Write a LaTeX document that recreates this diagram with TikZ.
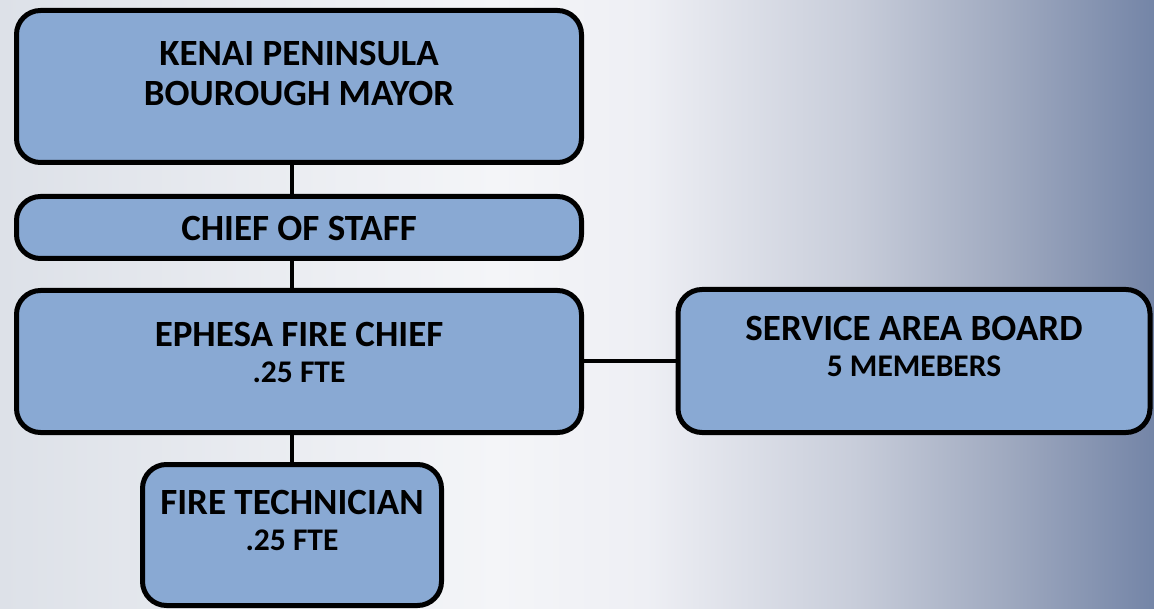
\documentclass[tikz,border=0pt]{standalone}
\usepackage{fontspec}
\setmainfont{Carlito}
\usepackage{tikz}

\definecolor{boxblue}{RGB}{137,169,211}
\definecolor{bgA}{RGB}{221,225,232}
\definecolor{bgB}{RGB}{244,245,248}
\definecolor{bgC}{RGB}{238,239,244}
\definecolor{bgD}{RGB}{200,205,218}
\definecolor{bgE}{RGB}{160,170,192}
\definecolor{bgF}{RGB}{116,133,167}

% path covers 25bp..75bp of the shading
\pgfdeclarehorizontalshading{bgshade}{100bp}{color(0bp)=(bgA); color(25bp)=(bgA); color(46.5bp)=(bgB); color(53bp)=(bgC); color(62bp)=(bgD); color(68.5bp)=(bgE); color(75bp)=(bgF); color(100bp)=(bgF)}

\tikzset{
  orgbox/.style={shape=rectangle, rounded corners=24pt, draw=black, line width=5pt, fill=boxblue, inner sep=0pt},
  orgtext/.style={align=center, font=\bfseries\fontsize{37}{40}\selectfont, text=black},
  link/.style={-, line width=4pt, black}
}
\newcommand{\subline}[1]{{\fontsize{31.5}{38}\selectfont #1}}

\begin{document}
\begin{tikzpicture}[x=1pt, y=-1pt]
	\useasboundingbox (0,0) rectangle (1154,609);
	\shade[shading=bgshade] (0,0) rectangle (1154,609);

	\node[orgbox, minimum width=565pt, minimum height=152pt] (mayor) at (299,86.5) {};
	\node[orgbox, minimum width=565pt, minimum height=62pt] (staff) at (299,227.5) {};
	\node[orgbox, minimum width=565pt, minimum height=142pt] (chief) at (299,361.5) {};
	\node[orgbox, minimum width=472pt, minimum height=143pt] (board) at (914,361) {};
	\node[orgbox, minimum width=299pt, minimum height=141pt] (tech) at (292,535) {};

	\node[orgtext] (mayortxt) at (299,74) {KENAI PENINSULA\\BOUROUGH MAYOR};
	\node[orgtext] (stafftxt) at (299,228) {CHIEF OF STAFF};
	\node[orgtext] (chieftxt) at (299,352) {EPHESA FIRE CHIEF\\[-4pt]\subline{.25 FTE}};
	\node[orgtext] (boardtxt) at (914,346) {SERVICE AREA BOARD\\[-4pt]\subline{5 MEMEBERS}};
	\node[orgtext] (techtxt) at (292,520) {FIRE TECHNICIAN\\[-4pt]\subline{.25 FTE}};

	\path [link] (mayor.south -| tech.north) edge (staff.north -| tech.north);
	\path [link] (staff.south -| tech.north) edge (chief.north -| tech.north);
	\path [link] (chief.south -| tech.north) edge (tech.north);
	\path [link] (chief.east) edge (chief.east -| board.west);
\end{tikzpicture}
\end{document}
